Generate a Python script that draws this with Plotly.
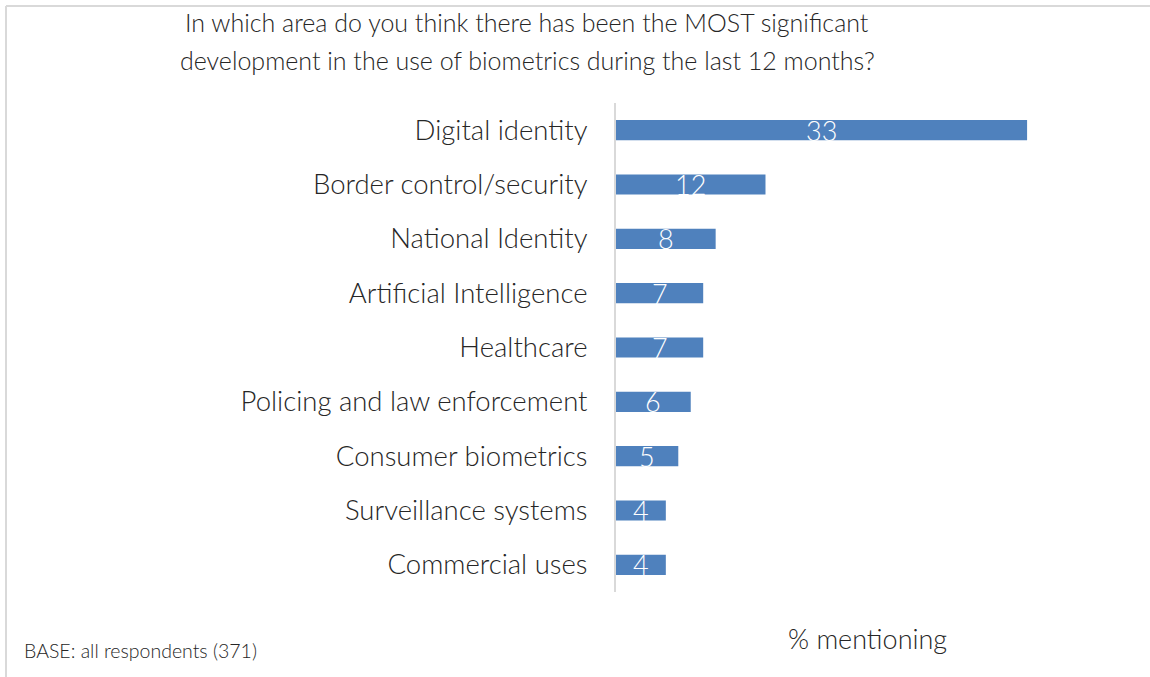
import plotly.graph_objects as go

categories = [
    "Digital identity",
    "Border control/security",
    "National Identity",
    "Artificial Intelligence",
    "Healthcare",
    "Policing and law enforcement",
    "Consumer biometrics",
    "Surveillance systems",
    "Commercial uses",
]
values = [33, 12, 8, 7, 7, 6, 5, 4, 4]

title_lines = [
    "In which area do you think there has been the MOST significant",
    "development in the use of biometrics during the last 12 months?",
]
axis_title = "% mentioning"
base_note = "BASE: all respondents (371)"

W, H = 1150, 677
ML, MR, MT, MB = 616, 98, 103, 85
FONT = "Lato, 'Open Sans', sans-serif"
BAR = "#4f81bd"
GRID = "#d9d9d9"
TEXT = "#262626"
PW = W - ML - MR
PH = H - MT - MB


def px_x(p):
    return (p - ML) / PW


def px_y(p):
    return 1 - (p - MT) / PH


fig = go.Figure(
    go.Bar(
        x=values,
        y=categories,
        orientation="h",
        marker=dict(color=BAR, line=dict(width=0)),
        width=0.37,
        hoverinfo="x+y",
    )
)

# value labels centred in each bar
for c, v in zip(categories, values):
    fig.add_annotation(
        x=v / 2, y=c, xref="x", yref="y", text=str(v), showarrow=False,
        xanchor="center", yanchor="middle",
        font=dict(family=FONT, size=27, color="white", weight=300), yshift=0,
    )

# two-line title, each line placed on its own
for line, ypx in zip(title_lines, [22, 60]):
    fig.add_annotation(
        x=px_x(527), y=px_y(ypx), xref="paper", yref="paper",
        xanchor="center", yanchor="middle",
        text=line, showarrow=False,
        font=dict(family=FONT, size=25, color=TEXT, weight=300),
    )
fig.add_annotation(
    x=px_x(867), y=px_y(638), xref="paper", yref="paper",
    xanchor="center", yanchor="middle",
    text=axis_title, showarrow=False,
    font=dict(family=FONT, size=27, color=TEXT, weight=300),
)
fig.add_annotation(
    x=px_x(22), y=px_y(650), xref="paper", yref="paper",
    xanchor="left", yanchor="middle",
    text=base_note, showarrow=False,
    font=dict(family=FONT, size=19.5, color=TEXT, weight=300),
)

# outer frame (left and top edges visible)
fig.add_shape(type="line", xref="paper", yref="paper",
              x0=px_x(6), x1=px_x(6), y0=px_y(6), y1=px_y(677),
              line=dict(color=GRID, width=2))
fig.add_shape(type="line", xref="paper", yref="paper",
              x0=px_x(6), x1=px_x(1150), y0=px_y(6), y1=px_y(6),
              line=dict(color=GRID, width=2))

fig.update_layout(
    width=W, height=H,
    margin=dict(l=ML, r=MR, t=MT, b=MB),
    paper_bgcolor="white", plot_bgcolor="white",
    showlegend=False,
    xaxis=dict(range=[0, 35], showgrid=False, zeroline=False,
               showticklabels=False, showline=False),
    yaxis=dict(autorange="reversed", showgrid=False, zeroline=False,
               showline=True, linecolor=GRID, linewidth=2,
               ticks="", ticklabelstandoff=21,
               tickfont=dict(family=FONT, size=27.5, color=TEXT, weight=300)),
)

fig.write_html("out.html")
